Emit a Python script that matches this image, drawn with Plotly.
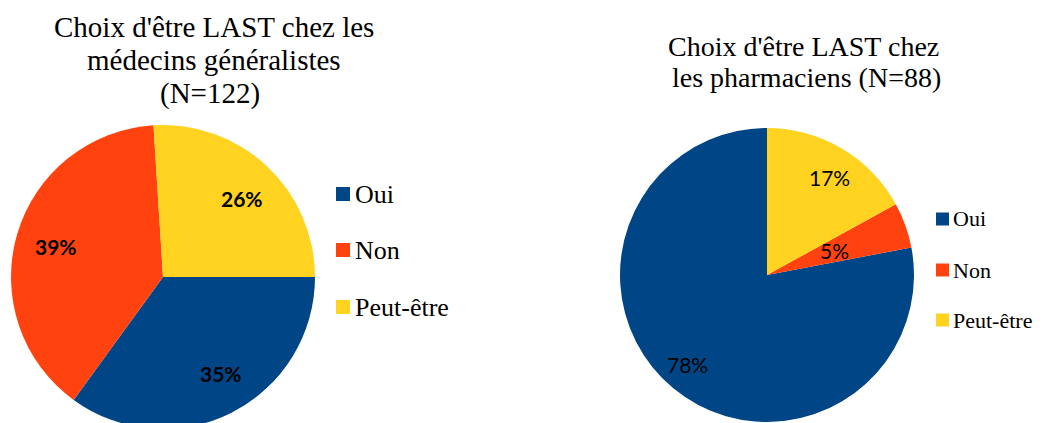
import math
import plotly.graph_objects as go

categories = ["Oui", "Non", "Peut-être"]
medecins_pct = [35, 39, 26]
pharmaciens_pct = [78, 5, 17]
colors = ["#004586", "#FF420E", "#FFD320"]
title_medecins = ["Choix d'être LAST chez les", "médecins généralistes", "(N=122)"]
title_pharmaciens = ["Choix d'être LAST chez", "les pharmaciens (N=88)"]

W, H = 1044, 423
OFF = 8  # page body margin offset

def px(x):
    return (x - OFF) / W

def py(y):
    return 1 - (y - OFF) / H

SERIF = "Liberation Serif, Times New Roman, serif"

# pie geometry (page pixel coordinates: centre x, centre y, radius)
left_geo = (163, 277, 152)
right_geo = (767, 275, 147)

right_rotation = 360 * (pharmaciens_pct[1] + pharmaciens_pct[2]) / sum(pharmaciens_pct)

fig = go.Figure()

def dom(geo):
    cx, cy, r = geo
    return dict(x=[px(cx - r), px(cx + r)], y=[py(cy + r), py(cy - r)])

fig.add_trace(go.Pie(
    labels=categories, values=medecins_pct, sort=False,
    direction="clockwise", rotation=90,
    marker=dict(colors=colors, line=dict(width=0)),
    textinfo="none", domain=dom(left_geo),
    showlegend=False, hoverinfo="label+percent",
))

fig.add_trace(go.Pie(
    labels=categories, values=pharmaciens_pct, sort=False,
    direction="counterclockwise", rotation=right_rotation,
    marker=dict(colors=colors, line=dict(width=0)),
    textinfo="none", domain=dom(right_geo),
    showlegend=False, hoverinfo="label+percent",
))

shapes = []
annotations = []

# slice labels placed on slice bisectors (angles derived from the data)
def slice_mids(values, start, clockwise):
    total = sum(values)
    mids = []
    if clockwise:
        a = start
        for v in values:
            span = 360 * v / total
            mids.append(a + span / 2)
            a += span
    else:
        # plotly: first slice spans [start, start+v] clockwise, following slices go counterclockwise
        a = start + 360 * values[0] / total
        for v in values:
            span = 360 * v / total
            mids.append(a - span / 2)
            a -= span
    return mids

def add_labels(values, geo, start, clockwise, fracs, shifts, bold):
    cx, cy, r = geo
    for v, m, f, s in zip(values, slice_mids(values, start, clockwise), fracs, shifts):
        rad = math.radians(m + s)
        x = cx + math.sin(rad) * r * f
        y = cy - math.cos(rad) * r * f
        txt = f"<b>{v}%</b>" if bold else f"{v}%"
        annotations.append(dict(text=txt, x=px(x), y=py(y), xref="paper", yref="paper",
                                xanchor="center", yanchor="middle", showarrow=False,
                                font=dict(family="Lato", size=21, color="black")))

add_labels(medecins_pct, left_geo, 90, True, [0.74, 0.73, 0.73], [-4, 0, 2], True)
add_labels(pharmaciens_pct, right_geo, right_rotation, False, [0.81, 0.49, 0.79], [2, 0, 2], False)

# titles
for line, xc, yc in zip(title_medecins, [214, 214, 210], [27, 60, 94]):
    annotations.append(dict(text=line, x=px(xc), y=py(yc), xref="paper", yref="paper",
                            xanchor="center", yanchor="middle", showarrow=False,
                            font=dict(family=SERIF, size=29, color="black")))
for line, xc, yc in zip(title_pharmaciens, [803, 806], [46, 77]):
    annotations.append(dict(text=line, x=px(xc), y=py(yc), xref="paper", yref="paper",
                            xanchor="center", yanchor="middle", showarrow=False,
                            font=dict(family=SERIF, size=28, color="black")))

# legends
def add_legend(x_sq, y_centers, sq, fsize, gap):
    for cat, col, yc in zip(categories, colors, y_centers):
        shapes.append(dict(type="rect", xref="paper", yref="paper",
                           x0=px(x_sq), x1=px(x_sq + sq),
                           y0=py(yc + sq / 2), y1=py(yc - sq / 2),
                           fillcolor=col, line=dict(width=0)))
        annotations.append(dict(text=cat, x=px(x_sq + sq + gap), y=py(yc), xref="paper", yref="paper",
                                xanchor="left", yanchor="middle", showarrow=False,
                                font=dict(family=SERIF, size=fsize, color="black")))

add_legend(336, [194, 250, 307], 14, 26, 3)
add_legend(936, [219, 270, 320], 13, 22, 2)

fig.update_layout(
    width=W, height=H, margin=dict(l=0, r=0, t=0, b=0),
    paper_bgcolor="white", plot_bgcolor="white",
    shapes=shapes, annotations=annotations,
)

fig.write_html("out.html")
